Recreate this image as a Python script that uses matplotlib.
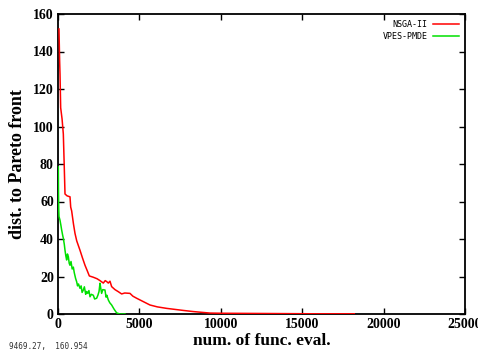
import matplotlib
matplotlib.use("Agg")
import matplotlib.pyplot as plt

# NSGA-II (red)
nsga_x = [60, 100, 123, 164, 250, 327, 380, 430, 560, 737, 780, 839, 950, 1044, 1150, 1351,
          1500, 1658, 1800, 1924, 2170, 2400, 2580, 2783, 2900, 2988, 3090, 3193, 3295,
          3500, 3704, 3909, 4100, 4421, 4600, 4830, 5240, 5650, 6100, 6674, 7700, 8308,
          9330, 10000, 12000, 14000, 16000, 18200]
nsga_y = [152, 135, 128, 110, 104, 96, 80, 64, 63, 62.5, 57, 55, 48, 43, 39, 34,
          30, 26, 23, 20.3, 19.6, 18.8, 17.8, 16.5, 17.8, 17.3, 16.5, 17.5, 14.6,
          13, 11.9, 10.7, 11.2, 11, 9.5, 8.4, 6.6, 4.8, 3.8, 3, 1.9, 1.3,
          0.5, 0.4, 0.3, 0.2, 0.1, 0.1]

# VPES-PMDE (green)
vpes_x = [20, 30, 45, 61, 123, 184, 225, 286, 327, 389, 430, 480, 532, 580, 635, 690,
          737, 800, 870, 942, 1000, 1080, 1146, 1200, 1260, 1351, 1420, 1480, 1556, 1620,
          1700, 1760, 1830, 1900, 1965, 2050, 2170, 2250, 2374, 2450, 2520, 2580, 2630,
          2680, 2750, 2885, 2950, 3000, 3090, 3180, 3295, 3450, 3602, 3800, 4114]
vpes_y = [78.5, 65, 56, 52, 50, 47, 44.8, 42, 40.4, 37, 34, 31, 28.8, 32, 30.6, 27,
          26, 28, 24, 25, 22, 19, 17.2, 15, 16, 13.7, 15, 11.5, 12.8, 14.5,
          10.5, 12, 11, 12.5, 9.2, 10.5, 10, 8, 8.4, 10, 12, 16.4, 13.5,
          11, 13, 12.8, 9, 10, 7.5, 6, 4.8, 2.5, 0.6, 0, 0]

xticks = [0, 5000, 10000, 15000, 20000, 25000]
yticks = [0, 20, 40, 60, 80, 100, 120, 140, 160]

fig = plt.figure(figsize=(4.78, 3.52), dpi=100)
ax = fig.add_axes([58/478, 38/352, 407/478, 300/352])

ax.plot(nsga_x, nsga_y, color="#ff0000", lw=1.1, label="NSGA-II", zorder=3)
ax.plot(vpes_x, vpes_y, color="#00e000", lw=1.1, label="VPES-PMDE", zorder=3.1)

ax.set_xlim(0, 25000)
ax.set_ylim(0, 160)
ax.set_xticks(xticks)
ax.set_yticks(yticks)
ax.set_xticklabels([str(t) for t in xticks], fontfamily="Liberation Serif", fontweight="bold", fontsize=10)
ax.set_yticklabels([str(t) for t in yticks], fontfamily="Liberation Serif", fontweight="bold", fontsize=10)
ax.tick_params(direction="in", length=4, width=1, top=True, right=True, pad=3, colors="black")
for s in ax.spines.values():
    s.set_linewidth(1.3)
    s.set_color("black")
    s.set_zorder(2.5)

ax.set_xlabel("num. of func. eval.", fontfamily="Liberation Serif", fontweight="bold", fontsize=12.5, labelpad=1)
ax.set_ylabel("dist. to Pareto front", fontfamily="Liberation Serif", fontweight="bold", fontsize=13, labelpad=5)

leg = ax.legend(loc="upper right", frameon=False, markerfirst=False,
                prop={"family": "DejaVu Sans Mono", "size": 6},
                handlelength=3.2, handletextpad=0.6, labelspacing=0.35,
                borderaxespad=0.3)

fig.text(9/478, 1 - 347/352, "9469.27,  160.954", fontfamily="DejaVu Sans Mono", fontsize=5.5,
         va="center", ha="left", color="#333333")

fig.savefig("out.png", dpi=100)
